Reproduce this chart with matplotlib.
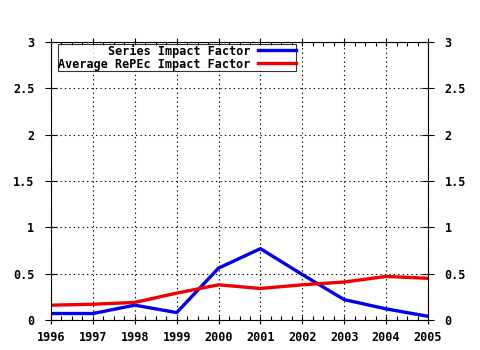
import matplotlib
matplotlib.use("Agg")
import matplotlib.pyplot as plt
from matplotlib.ticker import MultipleLocator, AutoMinorLocator

years = [1996, 1997, 1998, 1999, 2000, 2001, 2002, 2003, 2004, 2005]
series_if = [0.07, 0.07, 0.16, 0.08, 0.56, 0.77, 0.49, 0.22, 0.12, 0.04]
repec_if = [0.16, 0.17, 0.19, 0.29, 0.38, 0.34, 0.38, 0.41, 0.47, 0.45]

plt.rcParams["font.family"] = "DejaVu Sans Mono"
plt.rcParams["font.weight"] = "bold"

fig = plt.figure(figsize=(4.8, 3.5), dpi=100)
ax = fig.add_axes([51 / 480, 30 / 350, 377 / 480, 278 / 350])

ax.plot(years, series_if, color="#0000ee", lw=2.4, label="Series Impact Factor")
ax.plot(years, repec_if, color="#ee0000", lw=2.4, label="Average RePEc Impact Factor")

ax.set_xlim(1996, 2005)
ax.set_ylim(0, 3)
ax.xaxis.set_major_locator(MultipleLocator(1))
ax.xaxis.set_minor_locator(AutoMinorLocator(4))
ax.yaxis.set_major_locator(MultipleLocator(0.5))
ax.yaxis.set_major_formatter(matplotlib.ticker.FuncFormatter(lambda v, p: f"{v:g}"))
ax.grid(True, which="major", color="black", ls=(0, (1.2, 2.8)), lw=0.8)

ax.tick_params(axis="x", which="major", direction="inout", length=6, width=0.8,
               labelsize=8.5, top=True, pad=5)
ax.tick_params(axis="x", which="minor", direction="in", length=3, width=0.8, top=True)
ax.tick_params(axis="y", which="major", direction="inout", length=8, width=0.8,
               labelsize=8.5, right=True, labelright=True, pad=8)
for s in ax.spines.values():
    s.set_linewidth(0.8)

leg = ax.legend(loc="upper left", bbox_to_anchor=(0.018, 0.993), markerfirst=False,
                fontsize=8.5, frameon=True, fancybox=False, borderpad=0.05,
                handlelength=3.2, labelspacing=0.0, handletextpad=0.6,
                borderaxespad=0)
leg.get_frame().set_edgecolor("black")
leg.get_frame().set_linewidth(0.8)
for t in leg.get_texts():
    t.set_ha("right")

fig.savefig("out.png", dpi=100)
